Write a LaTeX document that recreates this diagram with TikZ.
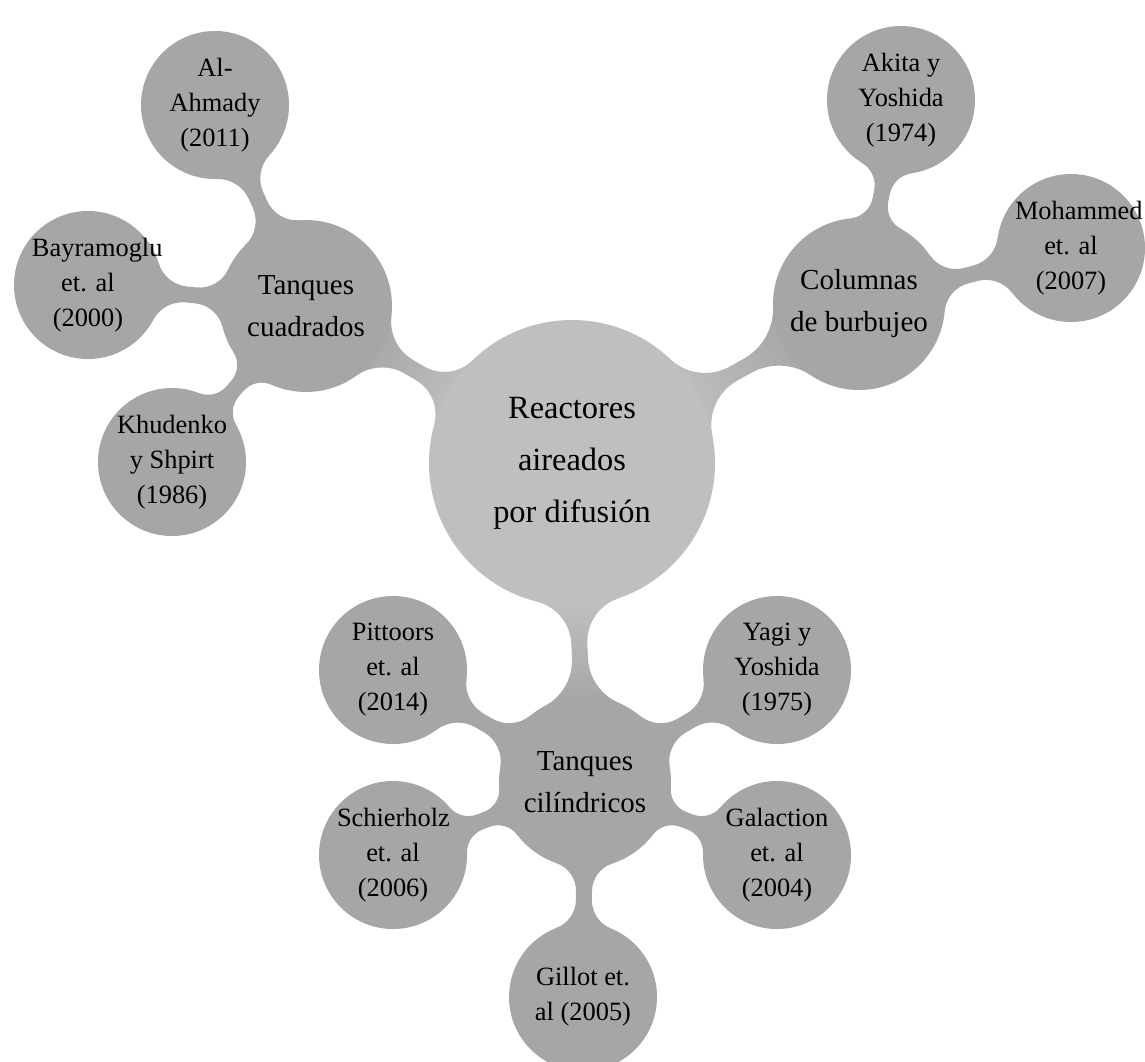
\documentclass[tikz,border=0pt]{standalone}
\usepackage{fontspec}
\setmainfont{Liberation Serif}
\usetikzlibrary{backgrounds}
% #1,#2 node names; #3 radius of #1 (px); #4 radius of #2 (px); #5 half bar width (px); #6 style
\newcommand\neckbar[6]{%
  \pgfpointanchor{#1}{center}\pgfgetlastxy{\nkAxd}{\nkAyd}%
  \pgfpointanchor{#2}{center}\pgfgetlastxy{\nkBxd}{\nkByd}%
  \pgfmathsetmacro\nkAx{\nkAxd/50}%
  \pgfmathsetmacro\nkAy{\nkAyd/50}%
  \pgfmathsetmacro\nkBx{\nkBxd/50}%
  \pgfmathsetmacro\nkBy{\nkByd/50}%
  \pgfmathsetmacro\nkD{veclen(\nkBx-\nkAx,\nkBy-\nkAy)}%
  \pgfmathsetmacro\nkTh{atan2(\nkBy-\nkAy,\nkBx-\nkAx)}%
  \pgfmathsetmacro\nkRa{#3/100}%
  \pgfmathsetmacro\nkRb{#4/100}%
  \pgfmathsetmacro\nkW{#5/100}%
  \pgfmathsetmacro\nkG{\nkD-\nkRa-\nkRb}%
  \pgfmathsetmacro\nkSA{\nkRa+0.42*\nkG}%
  \pgfmathsetmacro\nkSB{\nkRb+0.42*\nkG}%
  \pgfmathsetmacro\nkFA{(\nkSA*\nkSA-\nkRa*\nkRa+\nkW*\nkW)/(2*(\nkRa-\nkW))}%
  \pgfmathsetmacro\nkFB{(\nkSB*\nkSB-\nkRb*\nkRb+\nkW*\nkW)/(2*(\nkRb-\nkW))}%
  \pgfmathsetmacro\nkAlA{atan2(\nkW+\nkFA,\nkSA)}%
  \pgfmathsetmacro\nkAlB{atan2(\nkW+\nkFB,\nkSB)}%
  % points (pt)
  \pgfmathsetmacro\nkPax{50*(\nkAx+\nkRa*cos(\nkTh+\nkAlA))}%
  \pgfmathsetmacro\nkPay{50*(\nkAy+\nkRa*sin(\nkTh+\nkAlA))}%
  \pgfmathsetmacro\nkPbx{50*(\nkAx+(\nkD-\nkSB)*cos(\nkTh)+\nkW*cos(\nkTh+90))}%
  \pgfmathsetmacro\nkPby{50*(\nkAy+(\nkD-\nkSB)*sin(\nkTh)+\nkW*sin(\nkTh+90))}%
  \pgfmathsetmacro\nkPcx{50*(\nkBx+\nkRb*cos(\nkTh+180+\nkAlB))}%
  \pgfmathsetmacro\nkPcy{50*(\nkBy+\nkRb*sin(\nkTh+180+\nkAlB))}%
  \pgfmathsetmacro\nkPdx{50*(\nkAx+\nkSA*cos(\nkTh)-\nkW*cos(\nkTh+90))}%
  \pgfmathsetmacro\nkPdy{50*(\nkAy+\nkSA*sin(\nkTh)-\nkW*sin(\nkTh+90))}%
  \pgfmathsetmacro\nkRFA{50*\nkFA}%
  \pgfmathsetmacro\nkRFB{50*\nkFB}%
  \pgfmathsetmacro\nkaS{\nkTh+\nkAlA+180}%
  \pgfmathsetmacro\nkaE{\nkTh+270}%
  \pgfmathsetmacro\nkbS{\nkTh+270}%
  \pgfmathsetmacro\nkbE{\nkTh+360-\nkAlB}%
  \pgfmathsetmacro\nkcS{\nkTh+\nkAlB}%
  \pgfmathsetmacro\nkcE{\nkTh+90}%
  \pgfmathsetmacro\nkdS{\nkTh+90}%
  \pgfmathsetmacro\nkdE{\nkTh+180-\nkAlA}%
  \pgfmathsetmacro\nkSa{\nkTh+90}%
  \path[#6] (\nkPax pt,\nkPay pt)
     arc[start angle=\nkaS, end angle=\nkaE, radius=\nkRFA pt]
     -- (\nkPbx pt,\nkPby pt)
     arc[start angle=\nkbS, end angle=\nkbE, radius=\nkRFB pt]
     -- (\nkPcx pt,\nkPcy pt)
     arc[start angle=\nkcS, end angle=\nkcE, radius=\nkRFB pt]
     -- (\nkPdx pt,\nkPdy pt)
     arc[start angle=\nkdS, end angle=\nkdE, radius=\nkRFA pt]
     -- cycle;
}
\begin{document}
\begin{tikzpicture}[x=0.5pt,y=-0.5pt,
  rootc/.style={circle, fill=gray!50, minimum size=143pt, text width=90pt, inner sep=0pt, font=\fontsize{16.2}{26}\selectfont, align=flush center},
  lvla/.style={circle, fill=gray!70, minimum size=86pt, text width=74pt, inner sep=0pt, font=\fontsize{14.5}{21}\selectfont, align=flush center},
  lvlb/.style={circle, fill=gray!70, minimum size=74pt, text width=56pt, inner sep=0pt, font=\fontsize{13.2}{17.5}\selectfont, align=flush center},
  rootneck/.style={top color=gray!50, bottom color=gray!70, shading angle=\nkSa},
  leafneck/.style={fill=gray!70}]
\useasboundingbox (0,0) rectangle (1145,1061);
\node[rootc] (root) at (572,463) {Reactores\\aireados\\por difusión};
\node[lvla] (tc) at (306,306) {Tanques\\cuadrados};
\node[lvla] (cb) at (859,304) {Columnas\\de burbujeo};
\node[lvla] (tcil) at (585,782) {Tanques\\cilíndricos};
\node[lvlb] (ala) at (215,105) {Al-\\Ahmady\\(2011)};
\node[lvlb] (bay) at (88,285) {Bayramoglu\\et. al\\(2000)};
\node[lvlb] (khu) at (172,462) {Khudenko\\y Shpirt\\(1986)};
\node[lvlb] (aki) at (901,100) {Akita y\\Yoshida\\(1974)};
\node[lvlb] (moh) at (1071,248) {Mohammed\\et. al\\(2007)};
\node[lvlb] (pit) at (393,670) {Pittoors\\et. al\\(2014)};
\node[lvlb] (yag) at (777,670) {Yagi y\\Yoshida\\(1975)};
\node[lvlb] (sch) at (393,855) {Schierholz\\et. al\\(2006)};
\node[lvlb] (gal) at (777,855) {Galaction\\et. al\\(2004)};
\node[lvlb] (gil) at (583,997) {Gillot et.\\al (2005)};
\begin{pgfonlayer}{background}
\neckbar{root}{tc}{143}{86}{8}{rootneck}
\neckbar{root}{cb}{143}{86}{8}{rootneck}
\neckbar{root}{tcil}{143}{86}{8}{rootneck}
\neckbar{tc}{ala}{86}{74}{8}{leafneck}
\neckbar{tc}{bay}{86}{74}{8}{leafneck}
\neckbar{tc}{khu}{86}{74}{8}{leafneck}
\neckbar{cb}{aki}{86}{74}{8}{leafneck}
\neckbar{cb}{moh}{86}{74}{8}{leafneck}
\neckbar{tcil}{pit}{86}{74}{8}{leafneck}
\neckbar{tcil}{yag}{86}{74}{8}{leafneck}
\neckbar{tcil}{sch}{86}{74}{8}{leafneck}
\neckbar{tcil}{gal}{86}{74}{8}{leafneck}
\neckbar{tcil}{gil}{86}{74}{8}{leafneck}
\end{pgfonlayer}
\end{tikzpicture}
\end{document}
